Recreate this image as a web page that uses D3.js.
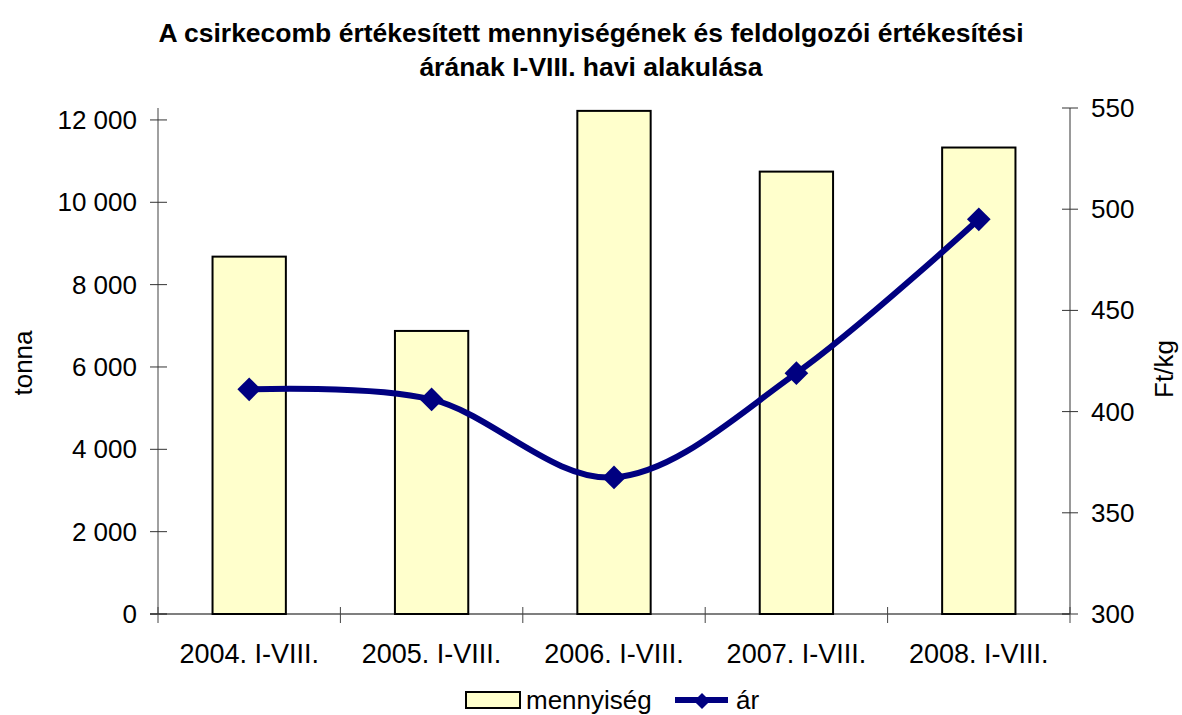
<!DOCTYPE html>
<html>
<head>
<meta charset="utf-8">
<script src="https://cdn.jsdelivr.net/npm/d3@7"></script>
<style>
  body { margin: 0; background: #fff; }
  svg text { font-family: "Liberation Sans", Arial, sans-serif; fill: #000; }
</style>
</head>
<body>
<svg id="chart" width="1182" height="715"></svg>
<script>
// data
const categories = ["2004. I-VIII.", "2005. I-VIII.", "2006. I-VIII.", "2007. I-VIII.", "2008. I-VIII."];
const quantity = [8680, 6875, 12220, 10745, 11330];   // tonna
const price = [411, 406, 367.5, 419, 495];            // Ft/kg
const leftTicks = [0, 2000, 4000, 6000, 8000, 10000, 12000];
const rightTicks = [300, 350, 400, 450, 500, 550];
const titleLines = ["A csirkecomb értékesített mennyiségének és feldolgozói értékesítési",
                    "árának I-VIII. havi alakulása"];

const svg = d3.select("#chart");

const plot = { left: 158, right: 1070, top: 108, bottom: 614 };

const x = d3.scaleBand()
  .domain(categories)
  .range([plot.left, plot.right])
  .paddingInner(0.598)
  .paddingOuter(0.299);

// band for the category ticks (no padding)
const xCat = d3.scaleBand().domain(categories).range([plot.left, plot.right]);

const yLeft = d3.scaleLinear().domain([0, 12290]).range([plot.bottom, plot.top]);
const yRight = d3.scaleLinear().domain([300, 550]).range([plot.bottom, plot.top]);

const fmt = d => d3.format(",")(d).replace(/,/g, " ");

// ----- title -----
svg.append("g")
  .selectAll("text")
  .data(titleLines)
  .enter()
  .append("text")
  .attr("x", 591)
  .attr("y", (d, i) => 42 + i * 34)
  .attr("text-anchor", "middle")
  .attr("font-size", 26.5)
  .attr("font-weight", "bold")
  .text(d => d);

// ----- bars -----
svg.append("g")
  .selectAll("rect")
  .data(quantity)
  .enter()
  .append("rect")
  .attr("x", (d, i) => x(categories[i]))
  .attr("y", d => yLeft(d))
  .attr("width", x.bandwidth())
  .attr("height", d => plot.bottom - yLeft(d))
  .attr("fill", "#ffffcc")
  .attr("stroke", "#000")
  .attr("stroke-width", 2);

// ----- left axis -----
const gL = svg.append("g");
gL.append("line")
  .attr("x1", plot.left).attr("x2", plot.left)
  .attr("y1", plot.top).attr("y2", plot.bottom)
  .attr("stroke", "#808080").attr("stroke-width", 1.5);
gL.selectAll("line.tick")
  .data(leftTicks)
  .enter()
  .append("line")
  .attr("class", "tick")
  .attr("x1", plot.left - 8).attr("x2", plot.left + 9)
  .attr("y1", d => yLeft(d)).attr("y2", d => yLeft(d))
  .attr("stroke", "#333").attr("stroke-width", 1);
gL.selectAll("text")
  .data(leftTicks)
  .enter()
  .append("text")
  .attr("x", 137)
  .attr("y", d => yLeft(d) + 9)
  .attr("text-anchor", "end")
  .attr("font-size", 26)
  .text(d => fmt(d));

// ----- right axis -----
const gR = svg.append("g");
gR.append("line")
  .attr("x1", plot.right).attr("x2", plot.right)
  .attr("y1", plot.top).attr("y2", plot.bottom)
  .attr("stroke", "#555").attr("stroke-width", 1.2);
gR.selectAll("line.tick")
  .data(rightTicks)
  .enter()
  .append("line")
  .attr("class", "tick")
  .attr("x1", plot.right - 8).attr("x2", plot.right + 8)
  .attr("y1", d => yRight(d)).attr("y2", d => yRight(d))
  .attr("stroke", "#333").attr("stroke-width", 1);
gR.selectAll("text")
  .data(rightTicks)
  .enter()
  .append("text")
  .attr("x", 1091)
  .attr("y", d => yRight(d) + 9)
  .attr("font-size", 26)
  .text(d => d);

// ----- bottom axis -----
const gB = svg.append("g");
gB.append("line")
  .attr("x1", plot.left - 8).attr("x2", plot.right)
  .attr("y1", plot.bottom).attr("y2", plot.bottom)
  .attr("stroke", "#000").attr("stroke-width", 1.2);
const bounds = categories.map(c => xCat(c)).concat([plot.right]);
gB.selectAll("line.tick")
  .data(bounds)
  .enter()
  .append("line")
  .attr("class", "tick")
  .attr("x1", d => d).attr("x2", d => d)
  .attr("y1", plot.bottom - 7).attr("y2", plot.bottom + 9)
  .attr("stroke", "#444").attr("stroke-width", 1);
gB.selectAll("text")
  .data(categories)
  .enter()
  .append("text")
  .attr("x", d => xCat(d) + xCat.bandwidth() / 2)
  .attr("y", 663)
  .attr("text-anchor", "middle")
  .attr("font-size", 27)
  .text(d => d);

// ----- axis titles -----
svg.append("text")
  .attr("transform", "translate(32,363) rotate(-90)")
  .attr("text-anchor", "middle")
  .attr("font-size", 26)
  .text("tonna");
svg.append("text")
  .attr("transform", "translate(1173,369) rotate(-90)")
  .attr("text-anchor", "middle")
  .attr("font-size", 26)
  .text("Ft/kg");

// ----- price line -----
const linePts = price.map((d, i) => [xCat(categories[i]) + xCat.bandwidth() / 2, yRight(d)]);
svg.append("path")
  .datum(linePts)
  .attr("d", d3.line().curve(d3.curveCardinal.tension(0)))
  .attr("fill", "none")
  .attr("stroke", "#000080")
  .attr("stroke-width", 6);

svg.append("g")
  .selectAll("path")
  .data(linePts)
  .enter()
  .append("path")
  .attr("transform", d => `translate(${d[0]},${d[1]}) rotate(45)`)
  .attr("d", d3.symbol().type(d3.symbolSquare).size(280))
  .attr("fill", "#000080");

// ----- legend -----
const lg = svg.append("g");
lg.append("rect")
  .attr("x", 466).attr("y", 692).attr("width", 54).attr("height", 16)
  .attr("fill", "#ffffcc").attr("stroke", "#000").attr("stroke-width", 2);
lg.append("text")
  .attr("x", 526).attr("y", 709)
  .attr("font-size", 26)
  .text("mennyiség");
lg.append("line")
  .attr("x1", 675).attr("x2", 728).attr("y1", 700).attr("y2", 700)
  .attr("stroke", "#000080").attr("stroke-width", 6);
lg.append("path")
  .attr("transform", "translate(702,701) rotate(45)")
  .attr("d", d3.symbol().type(d3.symbolSquare).size(130))
  .attr("fill", "#000080");
lg.append("text")
  .attr("x", 736).attr("y", 709)
  .attr("font-size", 26)
  .text("ár");
</script>
</body>
</html>
